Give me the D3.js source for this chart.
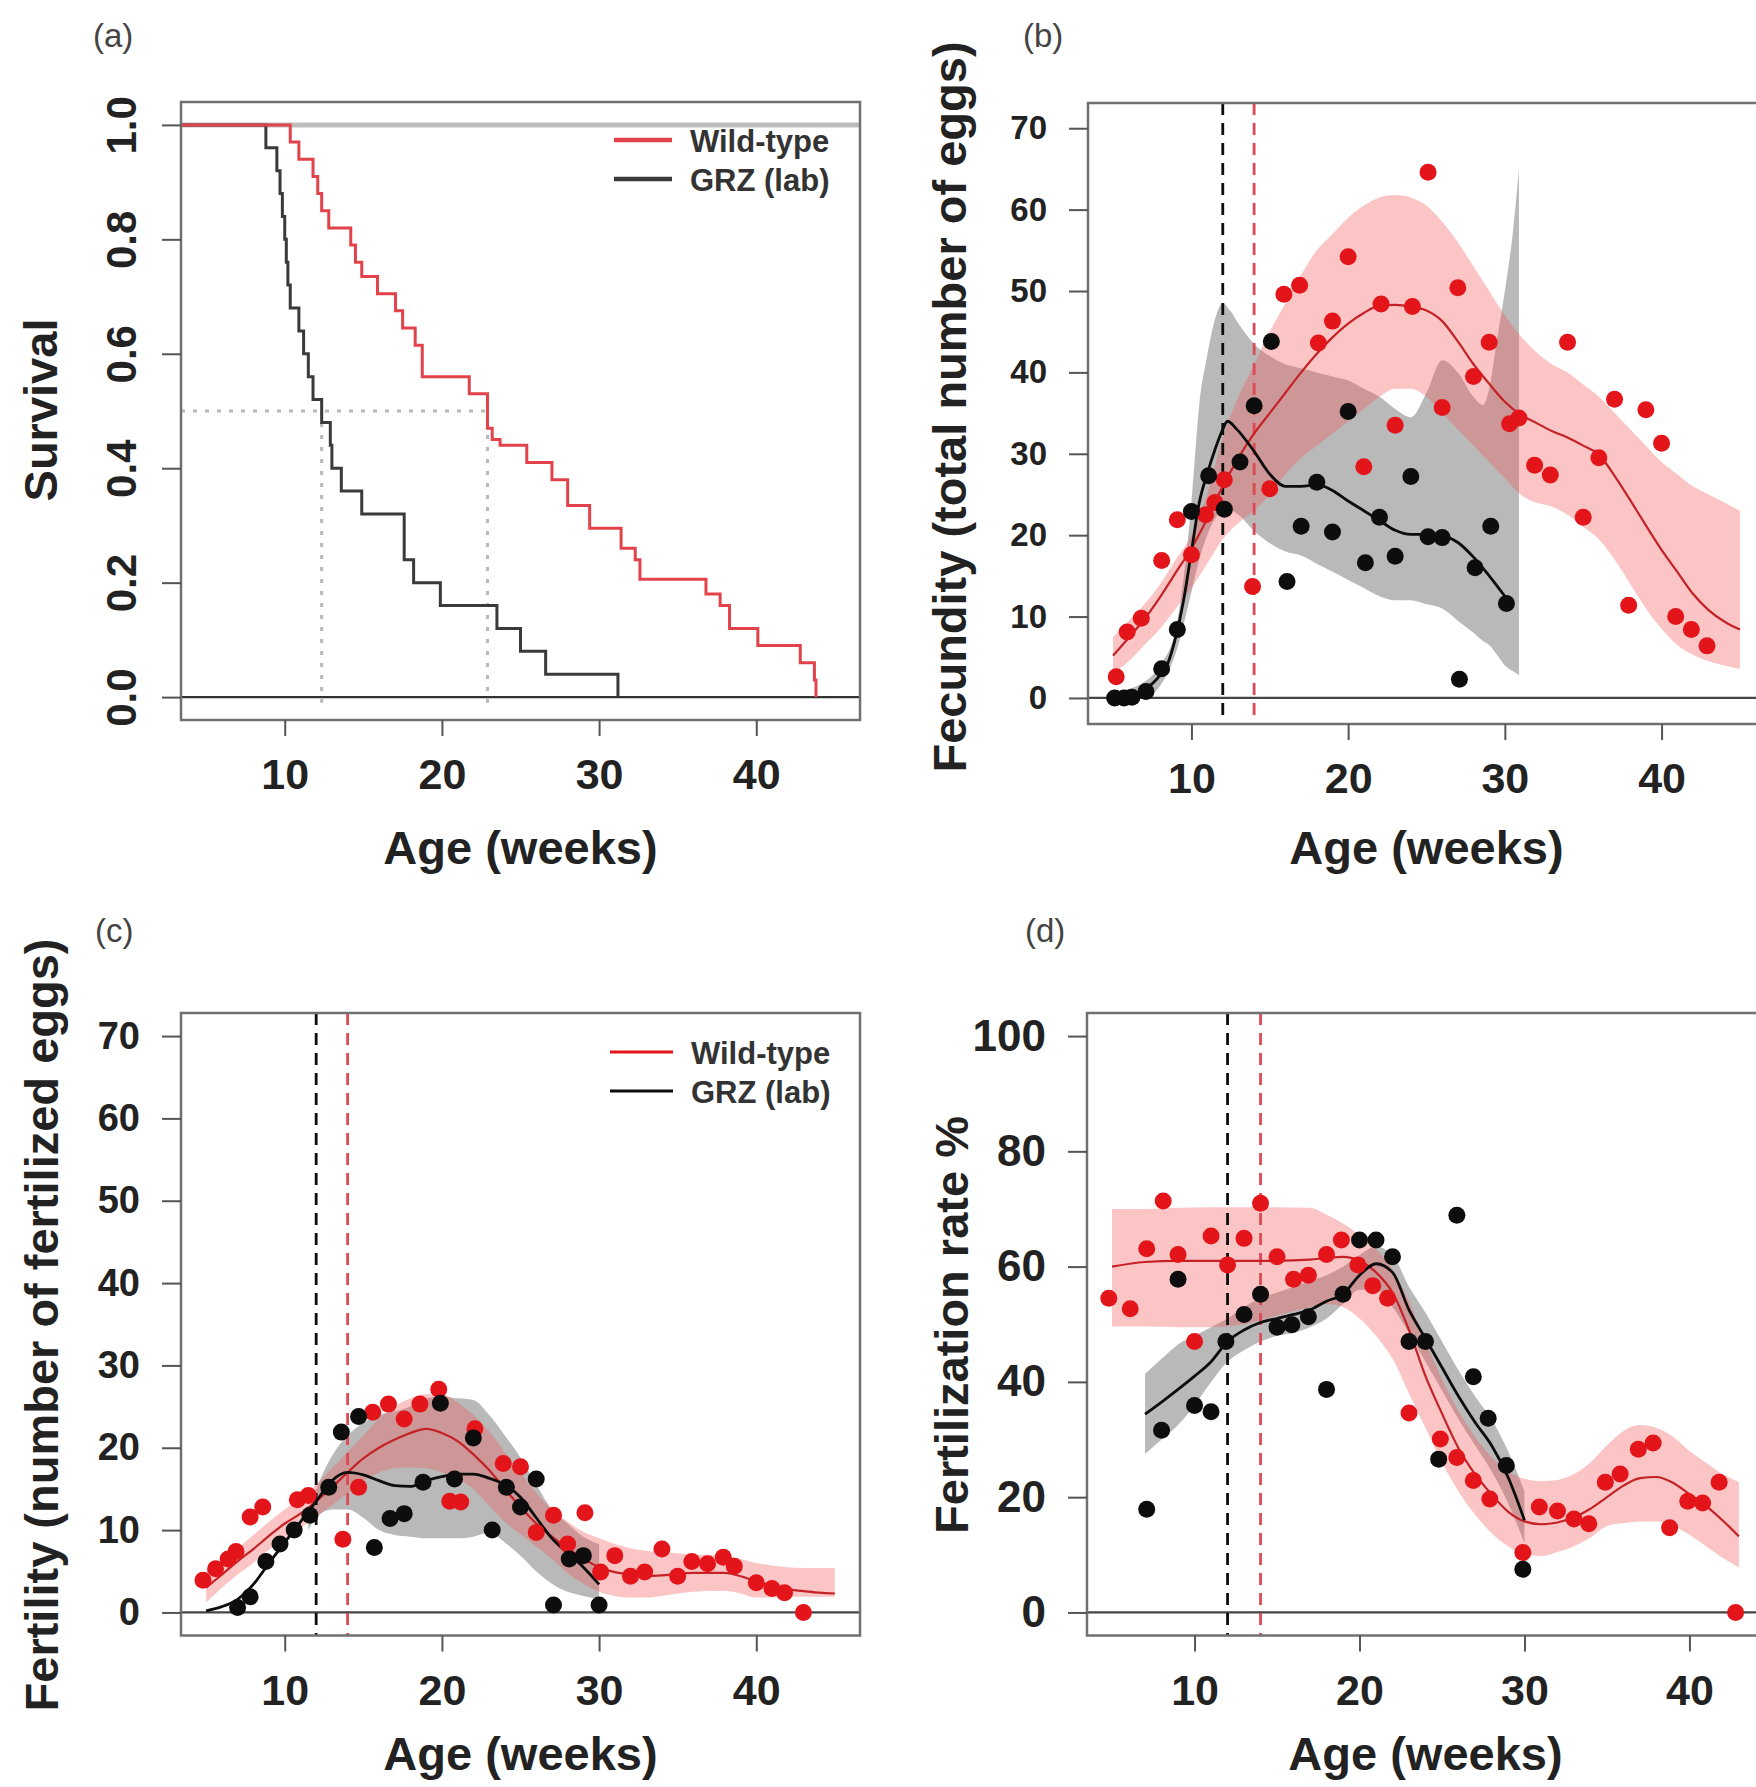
<!DOCTYPE html>
<html>
<head>
<meta charset="utf-8">
<script src="https://cdn.jsdelivr.net/npm/d3@7"></script>
<style>
  body { margin: 0; background: #fff; }
  svg text { font-family: "Liberation Sans", Arial, sans-serif; fill: #222; }
</style>
</head>
<body>
<svg id="fig" width="1756" height="1787"></svg>
<script>
// ---------- data ----------
const xTicks = [10, 20, 30, 40];
const survTicks = [0, 0.2, 0.4, 0.6, 0.8, 1.0];
const eggTicks = [0, 10, 20, 30, 40, 50, 60, 70];
const rateTicks = [0, 20, 40, 60, 80, 100];
const seriesLabels = ['Wild-type', 'GRZ (lab)'];

// (a) Kaplan-Meier steps: week of drop, survival after drop
const survWeeksGRZ = [0, 8.8, 9.5, 9.7, 9.85, 10.0, 10.1, 10.2, 10.35, 10.9, 11.2, 11.5, 11.8, 12.35, 12.9, 13.0, 13.6, 14.9, 17.6, 18.2, 19.9, 23.5, 25.0, 26.6, 31.2];
const survGRZ      = [1, 0.96, 0.92, 0.88, 0.84, 0.80, 0.76, 0.72, 0.68, 0.64, 0.60, 0.56, 0.52, 0.48, 0.44, 0.40, 0.36, 0.32, 0.24, 0.20, 0.16, 0.12, 0.08, 0.04, 0];
const survWeeksWT  = [0, 10.35, 10.9, 11.8, 12.1, 12.35, 12.8, 14.2, 14.5, 14.9, 15.9, 17.05, 17.5, 18.3, 18.75, 21.74, 22.9, 23.2, 23.7, 25.4, 27.0, 28.0, 29.4, 31.4, 32.3, 32.6, 36.8, 37.7, 38.3, 40.1, 42.8, 43.7, 43.8];
const survWT       = [1, 0.97, 0.94, 0.91, 0.88, 0.85, 0.82, 0.79, 0.76, 0.735, 0.705, 0.675, 0.645, 0.615, 0.56, 0.53, 0.47, 0.45, 0.44, 0.41, 0.38, 0.335, 0.295, 0.26, 0.24, 0.206, 0.18, 0.16, 0.12, 0.09, 0.06, 0.03, 0];

// age at maturity (dashed lines)
const maturityGRZ = 12;
const maturityWT = 14;

// (b) fecundity
const fecWeeksWT = [5.2, 5.9, 6.8, 8.1, 9.1, 10.0, 10.9, 11.5, 12.1, 13.9, 15.0, 15.9, 16.9, 18.1, 19.0, 20.0, 21.0, 22.1, 23.0, 24.1, 25.1, 26.0, 27.0, 28.0, 29.0, 30.3, 30.9, 31.9, 32.9, 34.0, 35.0, 36.0, 37.0, 37.9, 39.0, 40.0, 40.9, 41.9, 42.9];
const fecWT      = [2.6, 8.1, 9.8, 16.9, 21.9, 17.6, 22.5, 24, 26.8, 13.7, 25.7, 49.6, 50.7, 43.6, 46.3, 54.2, 28.4, 48.4, 33.5, 48.1, 64.6, 35.7, 50.4, 39.5, 43.7, 33.7, 34.4, 28.6, 27.4, 43.7, 22.2, 29.5, 36.7, 11.4, 35.4, 31.3, 10, 8.4, 6.4];
const fecWeeksGRZ = [5.1, 5.7, 6.2, 7.1, 8.1, 9.1, 10.0, 11.1, 12.1, 13.1, 14.0, 15.1, 16.1, 17.0, 18.0, 19.0, 20.0, 21.1, 22.0, 23.0, 24.0, 25.1, 26.0, 27.1, 28.1, 29.1, 30.1];
const fecGRZ      = [0, 0, 0.1, 0.8, 3.6, 8.4, 22.9, 27.3, 23.2, 29, 35.9, 43.8, 14.3, 21.1, 26.5, 20.4, 35.2, 16.6, 22.2, 17.4, 27.2, 19.8, 19.7, 2.3, 16, 21.1, 11.6];

const fitWeeksWT = [5, 6, 7, 8, 9, 10, 11, 12, 13, 14, 15, 16, 17, 18, 19, 20, 21, 22, 23, 24, 25, 26, 27, 28, 29, 30, 31, 32, 33, 34, 35, 36, 37, 38, 39, 40, 41, 42, 43, 44, 45];
const fecFitWT = [5.2, 7.4, 9.7, 12.4, 15.4, 18.4, 22, 26, 29.5, 32.5, 35, 37.5, 40, 42.3, 44.3, 46, 47.3, 48.2, 48.3, 48.1, 47.6, 46.3, 43.8, 41, 38.6, 36.4, 34.8, 33.8, 32.8, 32, 31, 29.9, 27.3, 24.3, 21.2, 18.2, 15.5, 12.8, 10.8, 9.4, 8.4];
const fecHiWT  = [7.5, 9.5, 11.5, 14, 17, 20, 25, 32, 37, 41, 45, 48.5, 52, 55, 57, 59, 60.5, 61.5, 61.8, 61.5, 60.5, 58.5, 56, 53, 50, 47, 44.5, 42.5, 41, 40, 38.5, 37, 35, 33, 31, 29, 27.5, 26, 25, 24, 23];
const fecLoWT  = [3, 4.5, 6.5, 8.5, 11, 13.5, 16.5, 19.5, 21.5, 23, 25, 27.5, 29.5, 31, 32.5, 34, 35.5, 37, 38, 38, 37, 35, 33, 31, 29, 27, 25, 24, 23.5, 22.5, 21, 19.5, 17, 14, 11, 8.5, 6.5, 5.3, 4.5, 4, 3.6];

const fecFitWeeksGRZ = [5, 6, 7, 8, 8.5, 9, 9.5, 10, 10.5, 11, 11.5, 12, 12.3, 12.9, 14, 15, 16, 17, 18, 19, 20, 21, 22, 23, 24, 25, 26, 27, 28, 29, 30];
const fecFitGRZ      = [0, 0.2, 1, 2.8, 4.3, 7.5, 12, 18, 24, 27.5, 30.5, 33, 34, 33, 30.3, 27.5, 26, 26, 26.2, 25.5, 24.2, 23, 21.8, 20.6, 20.1, 20.1, 19.9, 19.1, 17.3, 15, 12.5];
const fecBandWeeksGRZ = [5, 7, 8, 9, 10, 10.5, 11, 11.5, 12, 12.5, 13, 14, 15, 16, 17, 18, 19, 20, 21, 22, 23, 24, 25, 26, 27, 28, 28.6, 29, 29.5, 30, 30.5, 30.9];
const fecHiGRZ = [0.7, 2, 4, 8.5, 24, 36, 42, 46.5, 48.5, 47.5, 46, 43.5, 42, 41, 40.5, 40, 39.5, 39, 38, 37, 35.5, 34.5, 37.5, 41.5, 40, 37, 36, 38, 44, 50, 57, 65];
const fecLoGRZ = [0, 0, 1.5, 5.5, 13, 17, 20, 22, 23, 23, 22.5, 20.5, 19, 18, 17.5, 16.5, 15.5, 14.5, 13.5, 12.5, 12, 12, 11.5, 11, 9.5, 8, 7, 6.5, 5.3, 4, 3.3, 2.8];

// (c) fertility
const fertWeeksWT = [4.8, 5.6, 6.4, 6.9, 7.8, 8.6, 10.8, 11.5, 13.7, 14.7, 15.6, 16.6, 17.6, 18.6, 19.8, 20.5, 21.2, 22.1, 23.9, 25.0, 26.0, 27.1, 28.0, 29.1, 30.1, 31.0, 32.0, 32.9, 34.0, 35.0, 35.9, 36.9, 37.9, 38.6, 40.0, 41.0, 41.8, 43.0];
const fertWT      = [3.9, 5.3, 6.5, 7.4, 11.6, 12.8, 13.7, 14.2, 8.9, 15.2, 24.3, 25.3, 23.5, 25.3, 27.1, 13.5, 13.4, 22.3, 18.1, 17.7, 9.7, 11.8, 8.3, 12.1, 4.9, 6.9, 4.4, 4.9, 7.7, 4.4, 6.2, 5.9, 6.7, 5.6, 3.6, 2.9, 2.4, 0];
const fertWeeksGRZ = [7.0, 7.8, 8.8, 9.7, 10.6, 11.6, 12.8, 13.6, 14.7, 15.7, 16.7, 17.6, 18.8, 19.9, 20.8, 22.0, 23.2, 24.1, 25.0, 26.0, 27.1, 28.1, 29.0, 30.0];
const fertGRZ      = [0.6, 1.9, 6.2, 8.3, 10, 11.8, 15.2, 21.9, 23.8, 7.9, 11.4, 12, 15.8, 25.4, 16.2, 21.2, 10, 15.2, 12.8, 16.2, 0.9, 6.5, 6.9, 0.9];

const fertFitWT = [3, 4.6, 6.2, 7.7, 9.3, 10.8, 12, 13.5, 15.2, 17, 18.7, 20, 21, 21.8, 22.3, 21.8, 20.8, 19.2, 17.3, 15, 12.8, 10.8, 9.2, 7.8, 6.5, 5.5, 4.9, 4.6, 4.4, 4.5, 4.7, 4.8, 4.8, 4.8, 4.4, 3.8, 3.2, 2.8, 2.6, 2.4, 2.3];
const fertHiWT  = [5, 6.3, 7.8, 9.4, 11, 12.5, 14, 15.5, 17.5, 19.5, 21.5, 23.5, 25, 26, 26.5, 26.5, 25.5, 24, 22, 19.5, 17, 14.5, 12.5, 11, 9.8, 9, 8.3, 7.8, 7.5, 7.3, 7.2, 7, 7, 6.9, 6.5, 6, 5.7, 5.5, 5.4, 5.4, 5.4];
const fertLoWT  = [1.2, 3, 4.6, 6, 7.6, 9, 10.2, 11.7, 13, 14.5, 16, 17, 17.5, 17.6, 17.5, 17, 16.3, 15, 13, 11, 9.5, 8, 6.5, 4.8, 3.5, 2.5, 2, 1.8, 1.8, 2, 2.3, 2.5, 2.6, 2.6, 2.3, 1.8, 1.8, 1.9, 1.9, 1.9, 1.9];

const fertFitWeeksGRZ = [5, 6, 7, 8, 9, 10, 11, 12, 13, 14, 15, 16, 17, 18, 19, 20, 21, 22, 23, 24, 25, 26, 27, 28, 29, 30];
const fertFitGRZ = [0.2, 0.7, 1.6, 3.4, 6, 8.5, 11, 13.5, 16, 17, 16.7, 16, 15.4, 15.3, 16, 16.5, 16.8, 16.8, 16.3, 15.5, 14, 11.5, 9, 7.2, 5.5, 3.4];
const fertBandWeeksGRZ = [11.5, 12, 13, 14, 15, 16, 17, 18, 19, 20, 21, 22, 23, 24, 25, 26, 27, 28, 29, 30];
const fertHiGRZ = [12.5, 15, 19, 21.5, 23, 24, 24.4, 25, 26, 26.2, 26, 25.8, 24, 21.5, 18.8, 15.5, 12.5, 10.8, 9.2, 8.3];
const fertLoGRZ = [10, 11.5, 12.5, 12.5, 11.5, 10, 9.4, 9.2, 9, 9, 9, 9.2, 9.7, 8.5, 6.9, 5, 3.5, 2.5, 2, 1.6];

// (d) fertilization rate
const rateWeeksWT = [4.8, 6.1, 7.1, 8.1, 9.0, 10.0, 11.0, 12.0, 13.0, 14.0, 15.0, 16.0, 16.9, 18.0, 18.9, 19.9, 20.8, 21.7, 23.0, 24.9, 25.9, 26.9, 27.9, 29.9, 30.9, 32.0, 33.0, 33.9, 34.9, 35.8, 36.9, 37.8, 38.8, 39.9, 40.8, 41.8, 42.8];
const rateWT      = [54.5, 52.7, 63.1, 71.4, 62.1, 47, 65.3, 60.3, 64.9, 71, 61.7, 57.8, 58.5, 62.1, 64.6, 60.3, 56.7, 54.5, 34.6, 30.1, 26.9, 22.9, 19.7, 10.4, 18.3, 17.6, 16.2, 15.4, 22.6, 24, 28.3, 29.4, 14.7, 19.3, 19, 22.6, 0];
const rateWeeksGRZ = [7.1, 8.0, 9.0, 10.0, 11.0, 11.9, 13.0, 14.0, 15.0, 15.9, 16.9, 18.0, 19.0, 20.0, 21.0, 22.0, 23.0, 24.0, 24.8, 25.9, 26.9, 27.8, 28.9, 29.9];
const rateGRZ      = [17.9, 31.6, 57.8, 35.9, 34.8, 47, 51.7, 55.2, 49.5, 49.9, 51.3, 38.7, 55.2, 64.6, 64.6, 61.7, 47, 47, 26.6, 68.9, 40.9, 33.7, 25.5, 7.5];

const rateFitWeeksWT = [5, 7, 9, 11, 13, 15, 17, 18, 19, 20, 21, 22, 23, 24, 25, 26, 27, 28, 29, 30, 31, 32, 33, 34, 35, 36, 37, 38, 39, 40, 41, 42, 43];
const rateFitWT = [60, 60.8, 61, 61, 61, 61, 61.2, 61.5, 61.7, 61, 59, 55.5, 49, 41, 34.5, 28.5, 24, 20.5, 17.5, 15.8, 15.3, 15.6, 16.5, 18, 20, 22, 23.3, 23.5, 22.5, 20.5, 18.5, 16, 13.2];
const rateHiWT  = [70, 70, 70.2, 70.3, 70.3, 70.3, 70.2, 69, 67.5, 65.5, 63, 59.5, 54, 47, 40.5, 35, 30.5, 27, 24.5, 23.2, 22.8, 23, 24, 26, 29, 31.5, 32.5, 32, 30.5, 28, 26, 24, 22.6];
const rateLoWT  = [49.6, 49.6, 49.5, 49.5, 50, 51.5, 53, 53.5, 53, 51, 48, 44, 38, 32, 26, 21, 17, 13.8, 11.5, 10, 9.8, 10.5, 11.5, 13, 15, 15.5, 15.8, 15.8, 15, 13.5, 11.5, 9.5, 7.8];

const rateFitWeeksGRZ = [7, 8, 9, 10, 11, 12, 13, 14, 15, 16, 17, 18, 19, 20, 21, 22, 23, 24, 25, 26, 27, 28, 29, 30];
const rateFitGRZ = [34.4, 36.5, 38.7, 41, 43.5, 47, 49, 50.3, 51, 51.7, 52.5, 54, 55.2, 58.5, 60.5, 59, 52.5, 47.5, 42.5, 37.5, 33, 29, 23.5, 16];
const rateHiGRZ  = [41.4, 44, 46.5, 48, 49.5, 51, 53, 54.5, 55.5, 56.5, 57.5, 58.5, 60, 62, 63.5, 62, 56.5, 52, 47, 42, 37.5, 33.5, 28, 21];
const rateLoGRZ  = [27.5, 30, 32.5, 36, 40, 43.5, 45.5, 47, 48, 48.5, 49.5, 51, 53.5, 56, 56, 53, 48.5, 43.5, 38.5, 33.5, 29, 24.5, 19, 12];

// ---------- styles ----------
const RED = '#e3151b';
const RED_FIT = '#c42227';
const RED_BAND = 'rgba(244, 90, 90, 0.35)';
const GRAY_BAND = 'rgba(100, 100, 100, 0.45)';
const BLACK = '#0d0d0d';
const RED_DASH = '#dd4a55';
const KM_RED = '#e2434a';
const KM_BLACK = '#3a3a3a';

const svg = d3.select('#fig');
let clipCount = 0;

function makePanel(box, xd, yd) {
  const x = d3.scaleLinear().domain(xd).range([box.left, box.right]);
  const y = d3.scaleLinear().domain(yd).range([box.bottom, box.top]);
  const id = 'clip' + (clipCount++);
  svg.append('clipPath').attr('id', id).append('rect')
    .attr('x', box.left).attr('y', box.top)
    .attr('width', box.right - box.left).attr('height', box.bottom - box.top);
  const g = svg.append('g');
  const plot = g.append('g').attr('clip-path', `url(#${id})`);
  return { x, y, g, plot, box };
}

function frame(p) {
  p.g.append('rect')
    .attr('x', p.box.left).attr('y', p.box.top)
    .attr('width', p.box.right - p.box.left).attr('height', p.box.bottom - p.box.top)
    .attr('fill', 'none').attr('stroke', '#707070').attr('stroke-width', 2.5);
}

function xAxis(p, padding) {
  const ax = p.g.append('g').attr('transform', `translate(0,${p.box.bottom})`)
    .call(d3.axisBottom(p.x).tickValues(xTicks).tickSize(16).tickPadding(padding).tickFormat(d3.format('d')));
  ax.attr('font-family', null).attr('font-size', null);
  ax.select('.domain').remove();
  ax.selectAll('line').attr('stroke', '#555').attr('stroke-width', 2);
  ax.selectAll('text').attr('font-size', 43).attr('font-weight', 'bold').attr('fill', '#222');
}

function yAxis(p, ticks, fmt, size, rotate) {
  const ax = p.g.append('g').attr('transform', `translate(${p.box.left},0)`)
    .call(d3.axisLeft(p.y).tickValues(ticks).tickSize(19).tickPadding(22).tickFormat(fmt));
  ax.attr('font-family', null).attr('font-size', null);
  ax.select('.domain').remove();
  ax.selectAll('line').attr('stroke', '#555').attr('stroke-width', 2);
  const t = ax.selectAll('text').attr('font-size', size).attr('font-weight', 'bold').attr('fill', '#222');
  if (rotate) {
    t.attr('x', null).attr('dy', '0.36em').attr('text-anchor', 'middle')
      .attr('transform', 'translate(-60,0) rotate(-90)');
  }
}

function titles(p, yTitle, yTitleX, yTitleY, xTitleY, tag, tagX, tagY) {
  p.g.append('text').attr('x', (p.box.left + p.box.right) / 2).attr('y', xTitleY)
    .attr('text-anchor', 'middle').attr('font-size', 47).attr('font-weight', 'bold')
    .text('Age (weeks)');
  p.g.append('text').attr('transform', `translate(${yTitleX},${yTitleY}) rotate(-90)`)
    .attr('text-anchor', 'middle').attr('font-size', 47).attr('font-weight', 'bold')
    .text(yTitle);
  p.g.append('text').attr('x', tagX).attr('y', tagY)
    .attr('font-size', 33).style('fill', '#444')
    .text(tag);
}

function legend(p, x0, x1, y0, gap, lineW, colors) {
  seriesLabels.forEach((lab, i) => {
    const yy = y0 + i * gap;
    p.g.append('line').attr('x1', x0).attr('x2', x1).attr('y1', yy).attr('y2', yy)
      .attr('stroke', colors[i]).attr('stroke-width', lineW);
    p.g.append('text').attr('x', x1 + 18).attr('y', yy + 12)
      .attr('font-size', 31).attr('font-weight', 'bold').style('fill', '#333')
      .text(lab);
  });
}

function band(p, w, hi, lo, fill) {
  const area = d3.area().curve(d3.curveMonotoneX)
    .x(d => p.x(d[0])).y0(d => p.y(d[2])).y1(d => p.y(d[1]));
  p.plot.append('path').attr('d', area(d3.zip(w, hi, lo))).attr('fill', fill);
}

function fit(p, w, v, color, width) {
  const ln = d3.line().curve(d3.curveMonotoneX).x(d => p.x(d[0])).y(d => p.y(d[1]));
  p.plot.append('path').attr('d', ln(d3.zip(w, v)))
    .attr('fill', 'none').attr('stroke', color).attr('stroke-width', width);
}

function dots(p, w, v, color) {
  p.plot.append('g').selectAll('circle').data(d3.zip(w, v)).join('circle')
    .attr('cx', d => p.x(d[0])).attr('cy', d => p.y(d[1])).attr('r', 8.5)
    .attr('fill', color);
}

function hLine(p, val, color, width) {
  p.plot.append('line').attr('x1', p.box.left).attr('x2', p.box.right)
    .attr('y1', p.y(val)).attr('y2', p.y(val))
    .attr('stroke', color).attr('stroke-width', width);
}

function maturity(p, week, color) {
  p.plot.append('line').attr('x1', p.x(week)).attr('x2', p.x(week))
    .attr('y1', p.box.top).attr('y2', p.box.bottom)
    .attr('stroke', color).attr('stroke-width', 2.8).attr('stroke-dasharray', '12,8');
}

// ---------- (a) survival ----------
const pa = makePanel({ left: 181, right: 860, top: 102, bottom: 720 }, [3.4, 46.6], [-0.04, 1.04]);
hLine(pa, 1, '#bdbdbd', 5);
hLine(pa, 0, '#333', 2.2);

const medianOf = (w, s) => w[s.findIndex(v => v <= 0.5)];
const medGRZ = medianOf(survWeeksGRZ, survGRZ);
const medWT = medianOf(survWeeksWT, survWT);
const dotted = sel => sel.attr('stroke', '#b8b8b8').attr('stroke-width', 3).attr('stroke-dasharray', '4,8');
dotted(pa.plot.append('line').attr('x1', pa.box.left).attr('x2', pa.x(Math.max(medGRZ, medWT)))
  .attr('y1', pa.y(0.5)).attr('y2', pa.y(0.5)));
[medGRZ, medWT].forEach(m => dotted(pa.plot.append('line')
  .attr('x1', pa.x(m)).attr('x2', pa.x(m)).attr('y1', pa.y(0.5)).attr('y2', pa.y(-0.01))));

const step = d3.line().curve(d3.curveStepAfter).x(d => pa.x(d[0])).y(d => pa.y(d[1]));
pa.plot.append('path').attr('d', step(d3.zip(survWeeksGRZ, survGRZ)))
  .attr('fill', 'none').attr('stroke', KM_BLACK).attr('stroke-width', 3);
pa.plot.append('path').attr('d', step(d3.zip(survWeeksWT, survWT)))
  .attr('fill', 'none').attr('stroke', KM_RED).attr('stroke-width', 3);
frame(pa);
xAxis(pa, 22);
yAxis(pa, survTicks, d3.format('.1f'), 42, true);
titles(pa, 'Survival', 57, 410, 864, '(a)', 93, 47);
legend(pa, 614, 672, 140, 39, 4.5, [KM_RED, KM_BLACK]);

// ---------- (b) fecundity ----------
const pb = makePanel({ left: 1088, right: 1765, top: 103, bottom: 724 }, [3.4, 46.6], [-3.2, 73.1]);
band(pb, fecBandWeeksGRZ, fecHiGRZ, fecLoGRZ, GRAY_BAND);
band(pb, fitWeeksWT, fecHiWT, fecLoWT, RED_BAND);
hLine(pb, 0, '#444', 2.2);
maturity(pb, maturityGRZ, BLACK);
maturity(pb, maturityWT, RED_DASH);
fit(pb, fitWeeksWT, fecFitWT, RED_FIT, 2.2);
fit(pb, fecFitWeeksGRZ, fecFitGRZ, BLACK, 2.8);
dots(pb, fecWeeksWT, fecWT, RED);
dots(pb, fecWeeksGRZ, fecGRZ, BLACK);
frame(pb);
xAxis(pb, 22);
yAxis(pb, eggTicks, d3.format('d'), 33, false);
titles(pb, 'Fecundity (total number of eggs)', 966, 407, 864, '(b)', 1023, 47);

// ---------- (c) fertility ----------
const pc = makePanel({ left: 181, right: 860, top: 1013, bottom: 1635.5 }, [3.4, 46.6], [-2.8, 72.8]);
band(pc, fertBandWeeksGRZ, fertHiGRZ, fertLoGRZ, GRAY_BAND);
band(pc, fitWeeksWT, fertHiWT, fertLoWT, RED_BAND);
hLine(pc, 0, '#444', 2.2);
maturity(pc, maturityGRZ, BLACK);
maturity(pc, maturityWT, RED_DASH);
fit(pc, fitWeeksWT, fertFitWT, RED_FIT, 2.2);
fit(pc, fertFitWeeksGRZ, fertFitGRZ, BLACK, 2.8);
dots(pc, fertWeeksWT, fertWT, RED);
dots(pc, fertWeeksGRZ, fertGRZ, BLACK);
frame(pc);
xAxis(pc, 23);
yAxis(pc, eggTicks, d3.format('d'), 38, false);
titles(pc, 'Fertility (number of fertilized eggs)', 58, 1325, 1770, '(c)', 95, 942);
legend(pc, 610, 673, 1052, 39, 3, [RED, BLACK]);

// ---------- (d) fertilization rate ----------
const pd = makePanel({ left: 1087, right: 1764, top: 1013, bottom: 1635.5 }, [3.48, 44.52], [-4, 104]);
band(pd, rateFitWeeksGRZ, rateHiGRZ, rateLoGRZ, GRAY_BAND);
band(pd, rateFitWeeksWT, rateHiWT, rateLoWT, RED_BAND);
hLine(pd, 0, '#444', 2.2);
maturity(pd, maturityGRZ, BLACK);
maturity(pd, maturityWT, RED_DASH);
fit(pd, rateFitWeeksWT, rateFitWT, RED_FIT, 2.2);
fit(pd, rateFitWeeksGRZ, rateFitGRZ, BLACK, 2.8);
dots(pd, rateWeeksWT, rateWT, RED);
dots(pd, rateWeeksGRZ, rateGRZ, BLACK);
frame(pd);
xAxis(pd, 23);
yAxis(pd, rateTicks, d3.format('d'), 44, false);
titles(pd, 'Fertilization rate %', 968, 1325, 1770, '(d)', 1025, 942);
</script>
</body>
</html>
